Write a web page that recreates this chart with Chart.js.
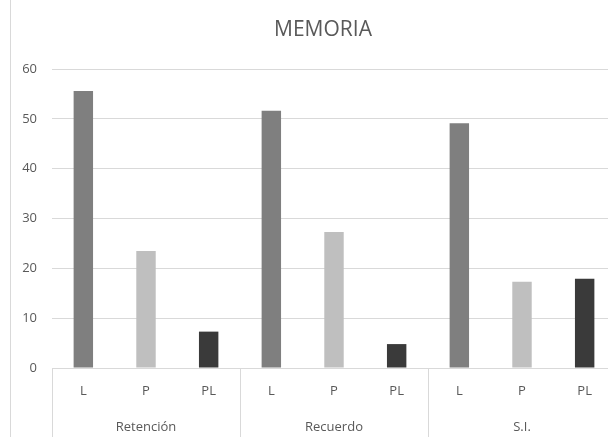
<!DOCTYPE html>
<html>
<head>
<meta charset="utf-8">
<script src="https://cdn.jsdelivr.net/npm/chart.js@4"></script>
<style>
  html, body { margin: 0; padding: 0; background: #fff; overflow: hidden; }
  #caja { width: 646px; height: 437px; }
</style>
</head>
<body>
<div id="caja"><canvas id="graficaMemoria" width="646" height="437"></canvas></div>
<script>
// Datos por grupo (cada grupo tiene L, P y PL)
const grupos = ['Retención', 'Recuerdo', 'S.I.'];
const niveles = ['L', 'P', 'PL'];
const valoresL = [55.6, 51.6, 49.1];
const valoresP = [23.5, 27.3, 17.3];
const valoresPL = [7.3, 4.8, 17.9];
const ticksY = [0, 10, 20, 30, 40, 50, 60];
const titulo = 'MEMORIA';

const coloresNivel = ['#7f7f7f', '#bfbfbf', '#3a3a3a'];
const gris = '#595959';
const lineas = '#d9d9d9';

// Aplanamos grupos x niveles en una sola serie de barras
const etiquetas = [];
const valores = [];
const colores = [];
grupos.forEach((g, i) => {
    const porNivel = [valoresL[i], valoresP[i], valoresPL[i]];
    niveles.forEach((n, j) => {
        etiquetas.push(n);
        valores.push(porNivel[j]);
        colores.push(coloresNivel[j]);
    });
});

// Marco, título y eje de dos niveles (separadores + nombres de grupo)
const ejeGrupos = {
    id: 'ejeGrupos',
    beforeDraw(chart) {
        const c = chart.ctx;
        c.save();
        c.strokeStyle = lineas;
        c.lineWidth = 1;
        c.beginPath();
        c.moveTo(10.5, 0);
        c.lineTo(10.5, chart.height);
        c.stroke();
        // el título va centrado sobre todo el gráfico, no sólo el área visible
        c.fillStyle = gris;
        c.font = '21px "Open Sans"';
        c.textAlign = 'center';
        c.textBaseline = 'middle';
        c.fillText(titulo, chart.width / 2, 30);
        c.restore();
    },
    afterDraw(chart) {
        const c = chart.ctx;
        const x = chart.scales.x;
        const base = chart.chartArea.bottom;
        const paso = x.getPixelForValue(1) - x.getPixelForValue(0);
        c.save();
        c.strokeStyle = lineas;
        c.lineWidth = 1;
        c.fillStyle = gris;
        c.font = '13px "Open Sans"';
        c.textAlign = 'center';
        c.textBaseline = 'middle';
        grupos.forEach((g, i) => {
            const ini = x.getPixelForValue(i * 3) - paso / 2;
            const fin = x.getPixelForValue(i * 3 + 2) + paso / 2;
            [ini, fin].forEach(px => {
                c.beginPath();
                c.moveTo(Math.round(px) + 0.5, base);
                c.lineTo(Math.round(px) + 0.5, chart.height);
                c.stroke();
            });
            c.fillText(g, (ini + fin) / 2, 427);
        });
        c.restore();
    }
};

new Chart(document.getElementById('graficaMemoria'), {
    type: 'bar',
    data: {
        labels: etiquetas,
        datasets: [{
            data: valores,
            backgroundColor: colores,
            borderWidth: 0,
            barPercentage: 0.31,
            categoryPercentage: 1
        }]
    },
    options: {
        responsive: false,
        animation: false,
        layout: { padding: { left: 0, right: 30, top: 69, bottom: 0 } },
        plugins: {
            legend: { display: false },
            tooltip: { enabled: false },
            title: { display: false }
        },
        scales: {
            x: {
                grid: { display: false },
                border: { display: true, color: lineas },
                ticks: {
                    color: gris,
                    font: { family: 'Open Sans', size: 13 },
                    padding: 7,
                    maxRotation: 0
                },
                afterFit(scale) { scale.height = 69; }
            },
            y: {
                min: 0,
                max: 60,
                afterBuildTicks(scale) { scale.ticks = ticksY.map(v => ({ value: v })); },
                grid: { color: lineas, drawTicks: false },
                border: { display: false },
                ticks: {
                    color: gris,
                    font: { family: 'Open Sans', size: 13 },
                    padding: 15
                },
                afterFit(scale) { scale.width = 52; }
            }
        }
    },
    plugins: [ejeGrupos]
});
</script>
</body>
</html>
